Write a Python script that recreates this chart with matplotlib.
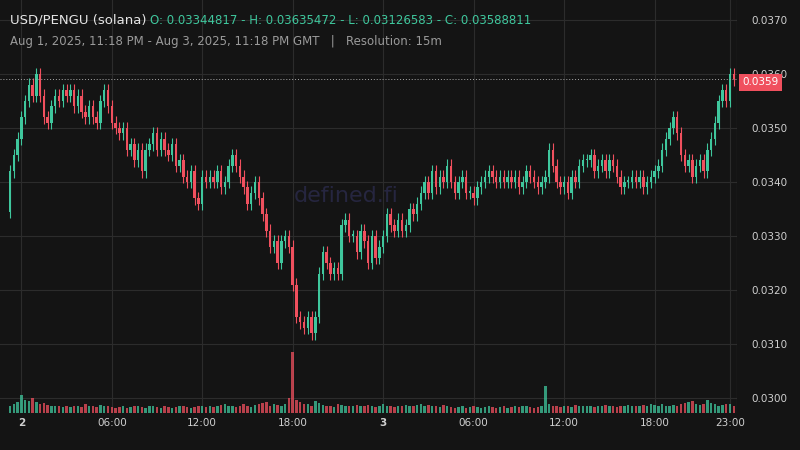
import matplotlib
matplotlib.use("Agg")
import matplotlib.pyplot as plt

# 15m closes, Aug 1 23:15 -> Aug 3 23:15
closes = [
    0.0342, 0.0345, 0.0348, 0.0352, 0.0355, 0.0358, 0.0356, 0.0360, 0.0356, 0.0352,
    0.0351, 0.0354, 0.0356, 0.0355, 0.0357, 0.0356, 0.0357, 0.0354, 0.0356, 0.0353,
    0.0352, 0.0354, 0.0352, 0.0351, 0.0355, 0.0357, 0.0354, 0.0351, 0.0350,
    0.0349, 0.0350, 0.0346, 0.0347, 0.0344, 0.0346, 0.0342, 0.0346, 0.0347,
    0.0349, 0.0346, 0.0348, 0.0346, 0.0345, 0.0347, 0.0343, 0.0344,
    0.0341, 0.0340, 0.0342, 0.0337, 0.0336, 0.0341, 0.0340, 0.0341,
    0.0340, 0.0342, 0.0339, 0.0340, 0.0343, 0.0345, 0.0343, 0.0341, 0.0339, 0.0336,
    0.0338, 0.0340, 0.0337, 0.0334, 0.0331, 0.0328, 0.0329, 0.0325, 0.0329, 0.0330,
    0.0328, 0.0321, 0.0315, 0.0314, 0.0313, 0.0315, 0.0312, 0.0315, 0.0323, 0.0327,
    0.0325, 0.0323, 0.0324, 0.0323, 0.0332, 0.0333, 0.0330, 0.0330, 0.0327, 0.0331,
    0.0329, 0.0325, 0.0330, 0.0326, 0.0328, 0.0330, 0.0334, 0.0332, 0.0331, 0.0333,
    0.0331, 0.0332, 0.0335, 0.0334, 0.0336, 0.0338, 0.0340, 0.0338, 0.0342, 0.0339,
    0.0341, 0.0340, 0.0343, 0.0340, 0.0338, 0.0340, 0.0341, 0.0338, 0.0338, 0.0337,
    0.0339, 0.0340, 0.0341, 0.0342, 0.0341, 0.0340, 0.0341, 0.0340, 0.0341, 0.0340,
    0.0341, 0.0339, 0.0340, 0.0342, 0.0341, 0.0340, 0.0339, 0.0340, 0.0341, 0.0346,
    0.0343, 0.0340, 0.0339, 0.0340, 0.0338, 0.0341, 0.0340, 0.0343, 0.0344, 0.0344,
    0.0345, 0.0342, 0.0343, 0.0344, 0.0342, 0.0344, 0.0343, 0.0341, 0.0339, 0.0340,
    0.0340, 0.0341, 0.0340, 0.0341, 0.0339, 0.0340, 0.0341, 0.0342, 0.0343, 0.0346,
    0.0348, 0.0350, 0.0352, 0.0349, 0.0345, 0.0343, 0.0344, 0.0341, 0.0343, 0.0344,
    0.0342, 0.0346, 0.0348, 0.0351, 0.0355, 0.0357, 0.0355, 0.0360, 0.0359,
]
first_open = 0.03345
volumes = [
    12, 14, 18, 30, 22, 20, 24, 18, 15, 16, 13, 12, 11, 12, 10, 11, 10, 12, 11, 10,
    14, 12, 11, 10, 13, 12, 11, 10, 9, 10, 11, 9, 10, 12, 11, 10, 9, 11, 12, 10,
    9, 11, 10, 9, 10, 12, 11, 10, 9, 10, 11, 12, 10,
    12, 10, 11, 13, 15, 12, 11, 10, 12, 14, 11, 10, 13, 14, 16, 18, 12, 15, 13, 12,
    14, 24, 100, 22, 18, 15, 14, 12, 20, 16, 13, 12, 11, 10, 15, 13, 12, 11, 12, 13,
    11, 12, 13, 11, 10, 12, 14, 12, 11, 10, 11, 12, 13, 11, 12, 13, 14, 12, 13, 11,
    12, 10, 13, 11, 10, 9, 10, 11, 9, 10, 11, 10, 9, 10, 11, 10, 9, 10, 11, 9,
    10, 11, 10, 12, 11, 10, 9, 10, 12, 45, 14, 12, 11, 10, 11, 12, 10, 13, 12, 11,
    12, 11, 10, 12, 11, 13, 12, 11, 10, 11, 12, 13, 11, 12, 11, 13, 12, 14, 13, 12,
    14, 12, 11, 13, 12, 14, 16, 18, 20, 15, 13, 14, 22, 16, 14, 12, 13, 15, 14, 12,
    17, 20, 14, 22, 16, 14, 13, 15, 14, 16, 12, 11,
][:len(closes)]
tick_idx = [3, 27, 51, 75, 99, 123, 147, 171, 191]
tick_labels = ["2", "06:00", "12:00", "18:00", "3", "06:00", "12:00", "18:00", "23:00"]
price_ticks = [0.0300, 0.0310, 0.0320, 0.0330, 0.0340, 0.0350, 0.0360, 0.0370]

UP = "#3fc79d"
DOWN = "#f0505e"
BG = "#141414"
GRID = "#2c2c2c"

opens = [first_open] + closes[:-1]
n = len(closes)

fig = plt.figure(figsize=(8, 4.5), dpi=100, facecolor=BG)
rect = [0, 37 / 450, 737 / 800, 413 / 450]
ax = fig.add_axes(rect, facecolor=BG)
vax = fig.add_axes(rect, facecolor="none", sharex=ax)

for i in range(n):
    o, c = opens[i], closes[i]
    col = UP if c >= o else DOWN
    hi = max(o, c) + 0.00012
    lo = min(o, c) - 0.00012
    ax.vlines(i, lo, hi, color=col, linewidth=0.8)
    body = max(abs(c - o), 0.00003)
    ax.bar(i, body, bottom=min(o, c), width=0.65, color=col, linewidth=0)
    vax.bar(i, volumes[i], width=0.65, color=col, alpha=0.75, linewidth=0)

ax.set_xlim(-2.65, 192.86)
ax.set_ylim(0.029722, 0.037370)
vmax = max(volumes)
vax.set_ylim(0, vmax * 413 / 61)
vax.axis("off")

ax.set_yticks(price_ticks)
ax.set_xticks(tick_idx)
ax.grid(color=GRID, linewidth=0.8)
ax.set_axisbelow(True)
ax.tick_params(length=0, colors="#cfcfcf", labelsize=7.5)
ax.yaxis.tick_right()
ax.set_yticklabels([f"{p:.4f}" for p in price_ticks])
ax.tick_params(axis="y", pad=10)
ax.set_xticklabels(tick_labels)
for lbl in ax.get_xticklabels():
    if lbl.get_text() in ("2", "3"):
        lbl.set_fontweight("bold")
for s in ax.spines.values():
    s.set_visible(False)
ax.axvline(192.86, color="#555555", linewidth=0.8)

last = closes[-1]
ax.axhline(last, color="#aaaaaa", linestyle=(0, (1, 2)), linewidth=0.7)
ax.annotate(f"{last:.4f}", xy=(1.0, last), xycoords=("axes fraction", "data"),
            xytext=(4, -2), textcoords="offset points", va="center", ha="left",
            fontsize=7.5, color="white", zorder=10,
            bbox=dict(boxstyle="square,pad=0.35", fc=DOWN, ec="none"))

ax.text(0.47, 0.525, "defined.fi", transform=ax.transAxes, fontsize=16,
        color="#262640", ha="center", va="center", zorder=0)

fig.text(10 / 800, 1 - 20 / 450, "USD/PENGU (solana)", color="#e6e6e6",
         fontsize=9.5, va="center")
fig.text(150 / 800, 1 - 20 / 450,
         "O: 0.03344817 - H: 0.03635472 - L: 0.03126583 - C: 0.03588811",
         color=UP, fontsize=8.5, va="center")
fig.text(10 / 800, 1 - 41 / 450,
         "Aug 1, 2025, 11:18 PM - Aug 3, 2025, 11:18 PM GMT   |   Resolution: 15m",
         color="#9a9a9a", fontsize=8.5, va="center")

fig.savefig("out.png", dpi=100, facecolor=BG)
